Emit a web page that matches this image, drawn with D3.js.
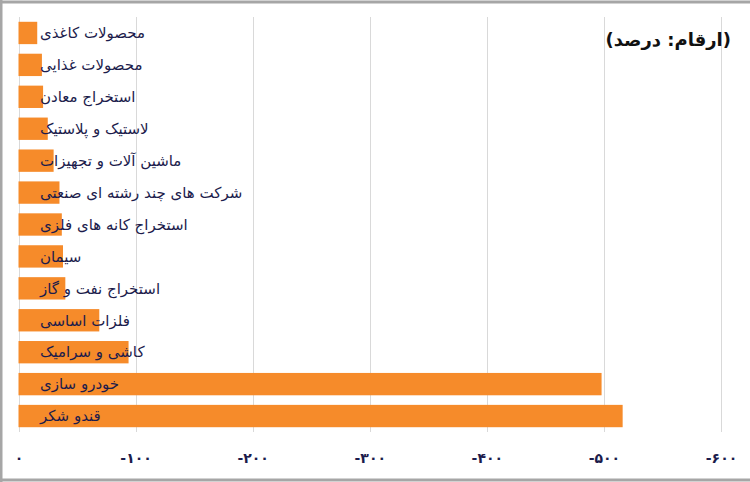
<!DOCTYPE html>
<html>
<head>
  <meta charset="UTF-8">
  <title>Industry returns</title>
  <style>
    body { margin: 0; background: #fff; }
    svg { display: block; }
    .grid line { stroke: #d9d9d9; shape-rendering: crispEdges; }
    .frame { stroke: #a6a6a6; stroke-width: 3; }
    .label { font-family: 'DejaVu Sans', sans-serif; font-size: 15px; fill: #1c1c4c; }
    .tick-label { font-family: 'DejaVu Sans', sans-serif; font-size: 14px; font-weight: bold; fill: #1c1c4c; }
    .title { font-family: 'DejaVu Sans', sans-serif; font-size: 18px; font-weight: bold; fill: #111; }
  </style>
</head>
<body>
<svg id="chart"></svg>

<script src="https://d3js.org/d3.v7.min.js"></script>
<script>

// categories, top to bottom
const categories = [
  "محصولات کاغذی",
  "محصولات غذایی",
  "استخراج معادن",
  "لاستیک و پلاستیک",
  "ماشین آلات و تجهیزات",
  "شرکت های چند رشته ای صنعتی",
  "استخراج کانه های فلزی",
  "سیمان",
  "استخراج نفت و گاز",
  "فلزات اساسی",
  "کاشی و سرامیک",
  "خودرو سازی",
  "قندو شکر"
];

// values in percent (negative)
const values = [-16, -20, -21, -25, -30, -35, -37, -38, -40, -69, -94, -498, -516];

const tickValues = [0, -100, -200, -300, -400, -500, -600];

const width = 750, height = 482;

const svg = d3.select("#chart")
    .attr("width", width)
    .attr("height", height);

// outer frame: top, left and bottom edges only
let frame = svg.append("g").attr("class", "frame");
frame.append("line").attr("x1", 0).attr("x2", width).attr("y1", 2).attr("y2", 2);
frame.append("line").attr("x1", 1).attr("x2", 1).attr("y1", 0).attr("y2", height);
frame.append("line").attr("x1", 0).attr("x2", width).attr("y1", height - 2).attr("y2", height - 2);

const plotTop = 17, plotBottom = 432;

let x = d3.scaleLinear()
    .domain([0, -600])
    .range([18.5, 721]);

let y = d3.scaleBand()
    .domain(categories)
    .range([plotTop, plotBottom])
    .paddingInner(0.3)
    .paddingOuter(0.15);

// persian digits
const faDigits = "۰۱۲۳۴۵۶۷۸۹";
function toFa(v) {
    return String(v).replace(/\d/g, d => faDigits[+d]);
}

// gridlines
svg.append("g")
    .attr("class", "grid")
    .selectAll("line")
    .data(tickValues)
    .enter()
    .append("line")
    .attr("x1", d => Math.round(x(d)) + 0.5)
    .attr("x2", d => Math.round(x(d)) + 0.5)
    .attr("y1", plotTop)
    .attr("y2", plotBottom);

// bars
svg.append("g")
    .selectAll("rect")
    .data(values)
    .enter()
    .append("rect")
    .attr("x", x(0))
    .attr("y", (d, i) => y(categories[i]))
    .attr("width", d => x(d) - x(0))
    .attr("height", y.bandwidth())
    .style("fill", "#f68b2a");

// category labels
svg.append("g")
    .selectAll("text")
    .data(categories)
    .enter()
    .append("text")
    .attr("class", "label")
    .attr("x", 40)
    .attr("y", d => y(d) + y.bandwidth() / 2)
    .attr("dy", "0.35em")
    .attr("text-anchor", "start")
    .text(d => d);

// x axis labels
let xAxis = d3.axisBottom(x)
    .tickValues(tickValues)
    .tickSize(0)
    .tickFormat(toFa);

let ax = svg.append("g")
    .attr("transform", "translate(0," + (plotBottom + 18) + ")")
    .call(xAxis);
ax.select(".domain").remove();
ax.selectAll("text")
    .attr("class", "tick-label")
    .attr("fill", null);

// title
svg.append("text")
    .attr("class", "title")
    .attr("x", 731)
    .attr("y", 46)
    .attr("text-anchor", "end")
    .text("(ارقام: درصد)");

</script>
</body>
</html>
